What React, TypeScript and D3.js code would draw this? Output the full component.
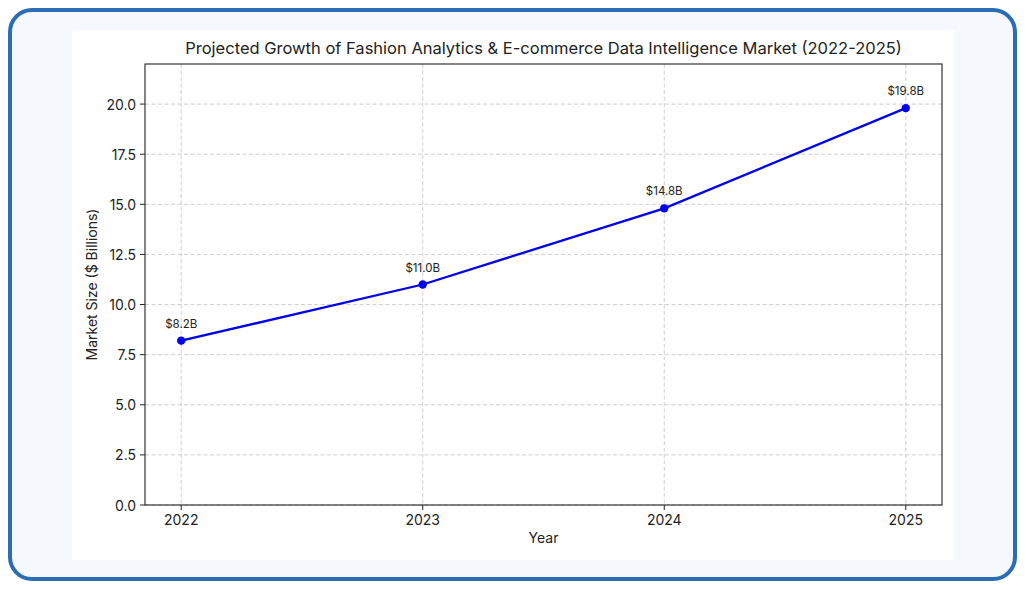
import React from "react";
import * as d3 from "d3";

const years = [2022, 2023, 2024, 2025];
const marketSize = [8.2, 11.0, 14.8, 19.8];
const pointLabels = ["$8.2B", "$11.0B", "$14.8B", "$19.8B"];
const yTicks = [0, 2.5, 5, 7.5, 10, 12.5, 15, 17.5, 20];

const W = 1026;
const H = 589;
const FONT = "Inter, 'Open Sans', sans-serif";

const App = () => {
  const left = 145;
  const right = 942;
  const top = 64;
  const bottom = 505;

  const x = d3.scaleLinear().domain([2021.85, 2025.15]).range([left, right]);
  const y = d3.scaleLinear().domain([0, 22]).range([bottom, top]);

  const pts = years.map((yr, i) => [x(yr), y(marketSize[i])] as [number, number]);
  const path = d3.line()(pts) || "";

  return (
    <svg
      width={W}
      height={H}
      style={{ position: "absolute", left: 0, top: 0, fontFamily: FONT }}
    >
      <rect x={0} y={0} width={W} height={H} fill="#ffffff" />
      <rect
        x={10}
        y={10}
        width={1005}
        height={569}
        rx={22}
        fill="#f5f8fc"
        stroke="#2a6db4"
        strokeWidth={4}
      />
      <rect x={72} y={30} width={882} height={530} fill="#ffffff" />

      {/* grid */}
      {yTicks.map((t) => (
        <line
          key={"gy" + t}
          x1={left}
          x2={right}
          y1={y(t)}
          y2={y(t)}
          stroke="#c8c8c8"
          strokeWidth={0.9}
          strokeDasharray="4,2.5"
        />
      ))}
      {years.map((t) => (
        <line
          key={"gx" + t}
          x1={x(t)}
          x2={x(t)}
          y1={top}
          y2={bottom}
          stroke="#c8c8c8"
          strokeWidth={0.9}
          strokeDasharray="4,2.5"
        />
      ))}

      {/* axes frame */}
      <rect
        x={left}
        y={top}
        width={right - left}
        height={bottom - top}
        fill="none"
        stroke="#222"
        strokeWidth={1.1}
      />

      {/* y ticks */}
      {yTicks.map((t) => (
        <g key={"ty" + t}>
          <line x1={left - 5} x2={left} y1={y(t)} y2={y(t)} stroke="#222" />
          <text
            x={left - 9}
            y={y(t)}
            textAnchor="end"
            dominantBaseline="central"
            fontSize={14}
            fill="#222"
          >
            {t.toFixed(1)}
          </text>
        </g>
      ))}

      {/* x ticks */}
      {years.map((t) => (
        <g key={"tx" + t}>
          <line x1={x(t)} x2={x(t)} y1={bottom} y2={bottom + 5} stroke="#222" />
          <text
            x={x(t)}
            y={bottom + 20}
            textAnchor="middle"
            fontSize={14}
            fill="#222"
          >
            {t}
          </text>
        </g>
      ))}

      {/* line + markers */}
      <path d={path} fill="none" stroke="#0000ee" strokeWidth={2.3} />
      {pts.map((p, i) => (
        <circle key={"c" + i} cx={p[0]} cy={p[1]} r={4.2} fill="#0000ee" />
      ))}
      {pts.map((p, i) => (
        <text
          key={"l" + i}
          x={p[0]}
          y={p[1] - 13}
          textAnchor="middle"
          fontSize={11.5}
          fill="#222"
        >
          {pointLabels[i]}
        </text>
      ))}

      {/* labels */}
      <text
        x={(left + right) / 2}
        y={54}
        textAnchor="middle"
        fontSize={16.5}
        fill="#222"
      >
        Projected Growth of Fashion Analytics &amp; E-commerce Data Intelligence Market (2022-2025)
      </text>
      <text
        x={(left + right) / 2}
        y={543}
        textAnchor="middle"
        fontSize={14}
        fill="#222"
      >
        Year
      </text>
      <text
        transform={`translate(97,${(top + bottom) / 2}) rotate(-90)`}
        textAnchor="middle"
        fontSize={14}
        fill="#222"
      >
        Market Size ($ Billions)
      </text>
    </svg>
  );
};

export default App;
